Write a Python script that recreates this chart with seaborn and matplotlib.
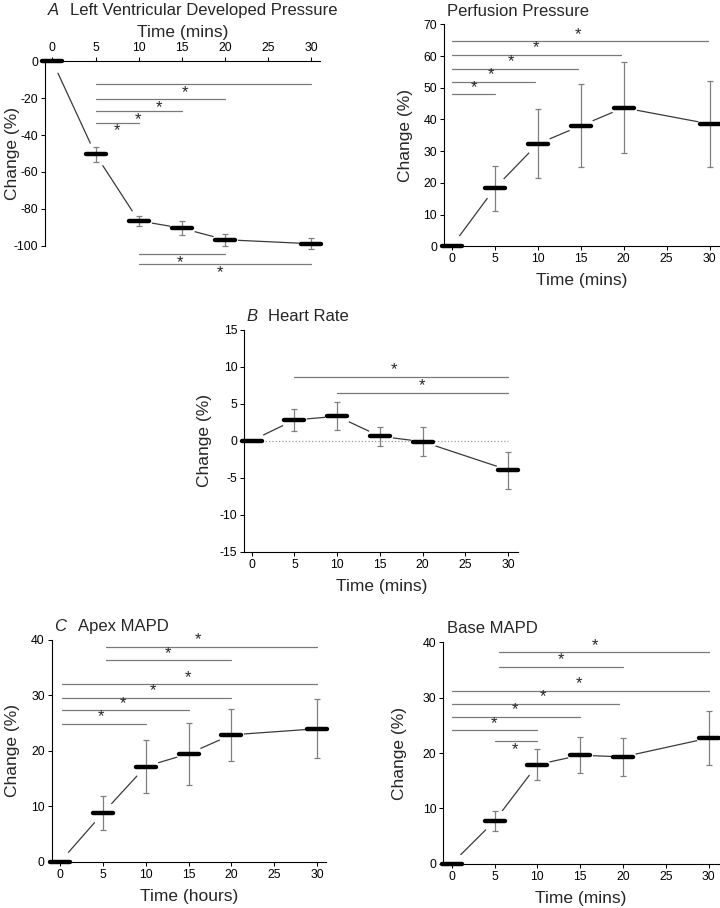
import matplotlib
matplotlib.use("Agg")
import matplotlib.pyplot as plt
import seaborn as sns
import pandas as pd
from matplotlib.markers import MarkerStyle

# time points (mins)
time = [0, 5, 10, 15, 20, 30]

# A - left ventricular developed pressure
lvdp_mean = [0, -50.5, -86.4, -90.4, -96.6, -98.8]
lvdp_err = [0, 4.2, 2.7, 3.8, 3.2, 3.0]
# (start, end, height, star x)
lvdp_sig = [(5, 30, -12.6, 15.4), (5, 20, -20.7, 12.3), (5, 15, -27.0, 9.9),
            (5, 10, -33.3, 7.5), (10, 20, -104.3, 14.8), (10, 30, -110.0, 19.4)]

# perfusion pressure
pp_mean = [0, 18.3, 32.3, 38.0, 43.7, 38.6]
pp_err = [0, 7.0, 10.9, 13.1, 14.3, 13.5]
pp_sig = [(0, 5, 47.9, 2.6), (0, 9.7, 51.8, 4.6), (0, 14.7, 56.0, 6.9),
          (0, 19.7, 60.4, 9.8), (0, 29.8, 64.7, 14.7)]

# B - heart rate
hr_mean = [0, 2.8, 3.3, 0.6, -0.13, -3.96]
hr_err = [0, 1.45, 1.9, 1.3, 2.0, 2.5]
hr_sig = [(5, 30, 8.6, 16.6), (10, 30, 6.5, 19.9)]

# C - apex MAPD
apex_mean = [0, 8.8, 17.2, 19.5, 22.9, 24.0]
apex_err = [0, 3.0, 4.8, 5.6, 4.65, 5.3]
apex_sig = [(0.2, 10, 24.9, 4.75), (0.2, 15, 27.3, 7.3), (0.2, 20, 29.6, 10.9),
            (0.2, 30, 32.0, 14.9), (5.4, 20, 36.3, 12.6), (5.4, 30, 38.8, 16.1)]

# base MAPD
base_mean = [0, 7.7, 17.9, 19.6, 19.3, 22.7]
base_err = [0, 1.75, 2.8, 3.25, 3.5, 4.95]
base_sig = [(5, 10, 22.1, 7.4), (0, 10, 24.1, 4.9), (0, 15, 26.5, 7.4),
            (0, 19.5, 28.9, 10.6), (0, 30, 31.2, 14.9), (5.5, 20, 35.6, 12.8),
            (5.5, 30, 38.2, 16.7)]

sns.set_style("ticks")
plt.rcParams['font.family'] = ['Liberation Sans', 'DejaVu Sans']
plt.rcParams['axes.unicode_minus'] = False

fig = plt.figure(figsize=(7.2, 9.08), dpi=100)

bar_marker = MarkerStyle('_', capstyle='round')


def draw_panel(ax, mean, err, sig, ylim, yticks, xlim, star_below=(), top_axis=False):
    ax.set_axisbelow(False)  # ticks/labels above the white halos
    df = pd.DataFrame({'time': time, 'mean': mean, 'err': err})
    sns.lineplot(data=df, x='time', y='mean', color='#3a3a3a', linewidth=0.9,
                 ax=ax, zorder=1.1, errorbar=None)
    # white halo gives the gap between line and markers
    ax.plot(df['time'], df['mean'], 'o', ms=18, color='white', mec='none',
            zorder=1.2, clip_on=False)
    ax.errorbar(df['time'][1:], df['mean'][1:], yerr=df['err'][1:], fmt='none',
                ecolor='#808080', elinewidth=0.9, capsize=2.2, capthick=0.9,
                zorder=3, clip_on=False)
    ax.plot(df['time'], df['mean'], ls='none', marker=bar_marker, ms=14,
            mew=3.2, color='black', zorder=4, clip_on=False)
    for i, (x0, x1, h, sx) in enumerate(sig):
        ax.plot([x0, x1], [h, h], color='#7a7a7a', lw=0.9, zorder=2.2, clip_on=False)
        dy = -6 if i in star_below else 5
        ax.annotate('*', xy=(sx, h), xytext=(0, dy), textcoords='offset points',
                    ha='center', va='center', fontsize=12, annotation_clip=False)
    ax.set_xlim(*xlim)
    ax.set_ylim(*ylim)
    ax.set_xticks([0, 5, 10, 15, 20, 25, 30])
    ax.set_yticks(yticks)
    ax.tick_params(labelsize=8.8, length=3, width=0.75, colors='black', pad=2)
    for s in ax.spines.values():
        s.set_linewidth(0.8)
        s.set_color('black')
    if top_axis:
        ax.xaxis.tick_top()
        ax.xaxis.set_label_position('top')
        ax.spines['bottom'].set_visible(False)
        ax.spines['right'].set_visible(False)
    else:
        ax.spines['top'].set_visible(False)
        ax.spines['right'].set_visible(False)
    ax.set_ylabel('Change (%)', fontsize=12.5)


def panel_title(ax, letter, text, y, x_letter, x_text):
    if letter:
        ax.text(x_letter, y, letter, transform=ax.transAxes, fontsize=12,
                style='italic', ha='left', va='center')
    ax.text(x_text, y, text, transform=ax.transAxes, fontsize=12,
            ha='left', va='center')


# A
ax_a = fig.add_axes([0.0625, 0.7291, 0.3819, 0.2037])
draw_panel(ax_a, lvdp_mean, lvdp_err, lvdp_sig, (-100, 0), range(0, -101, -20),
           (-0.85, 31), star_below=range(6), top_axis=True)
ax_a.set_xlabel('Time (mins)', fontsize=12.5)
ax_a.xaxis.set_label_coords(0.5, 1 + 24 / 185)
ax_a.yaxis.set_label_coords(-0.091, 0.5)
panel_title(ax_a, 'A', 'Left Ventricular Developed Pressure', 1 + 51 / 185, 0.011, 0.091)

# perfusion pressure
ax_pp = fig.add_axes([0.6167, 0.7287, 0.3819, 0.2445])
draw_panel(ax_pp, pp_mean, pp_err, pp_sig, (0, 70), range(0, 71, 10), (-0.9, 31.1))
ax_pp.set_xlabel('Time (mins)', fontsize=12.5)
ax_pp.xaxis.set_label_coords(0.5, -27 / 222)
ax_pp.yaxis.set_label_coords(-0.113, 0.5)
panel_title(ax_pp, None, 'Perfusion Pressure', 1 + 13 / 222, 0, 0.011)

# B
ax_b = fig.add_axes([0.3393, 0.3924, 0.3806, 0.2445])
ax_b.plot([time[0], time[-1]], [0, 0], ls=':', color='#9a9a9a', lw=0.9, zorder=2.1)
draw_panel(ax_b, hr_mean, hr_err, hr_sig, (-15, 15), range(-15, 16, 5), (-0.86, 31.2))
ax_b.set_xlabel('Time (mins)', fontsize=12.5)
ax_b.xaxis.set_label_coords(0.5, -27 / 222)
ax_b.yaxis.set_label_coords(-0.118, 0.5)
panel_title(ax_b, 'B', 'Heart Rate', 1 + 13 / 222, 0.009, 0.0876)

# C
ax_c = fig.add_axes([0.0718, 0.0507, 0.381, 0.2445])
draw_panel(ax_c, apex_mean, apex_err, apex_sig, (0, 40), range(0, 41, 10), (-0.97, 31.05))
ax_c.set_xlabel('Time (hours)', fontsize=12.5)
ax_c.xaxis.set_label_coords(0.5, -27 / 222)
ax_c.yaxis.set_label_coords(-0.116, 0.5)
panel_title(ax_c, 'C', 'Apex MAPD', 1 + 13 / 222, 0.008, 0.0948)

# base MAPD
ax_base = fig.add_axes([0.6157, 0.0488, 0.3829, 0.2438])
draw_panel(ax_base, base_mean, base_err, base_sig, (0, 40), range(0, 41, 10),
           (-0.98, 31.2), star_below=[0])
ax_base.set_xlabel('Time (mins)', fontsize=12.5)
ax_base.xaxis.set_label_coords(0.5, -27 / 222)
ax_base.yaxis.set_label_coords(-0.131, 0.5)
panel_title(ax_base, None, 'Base MAPD', 1 + 14 / 222, 0, 0.012)

fig.savefig('out.png', dpi=100)
